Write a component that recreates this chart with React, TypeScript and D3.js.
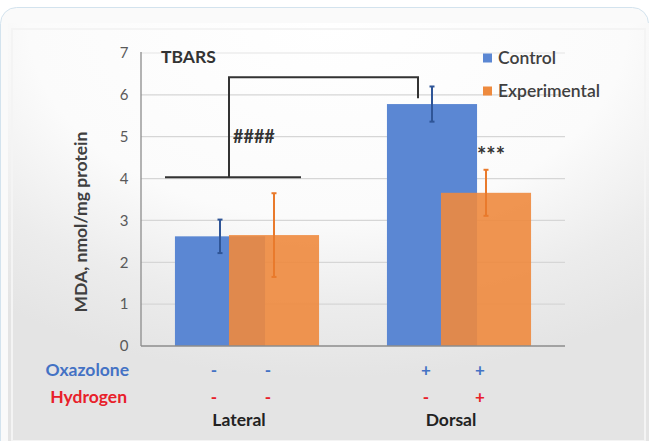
import React from "react";
import * as d3 from "d3";

const categories = ["Lateral", "Dorsal"];
const series = ["Control", "Experimental"];
const controlValues = [2.62, 5.78];
const controlErrors = [0.4, 0.42];
const experimentalValues = [2.65, 3.66];
const experimentalErrors = [1.0, 0.55];
const yTicks = [0, 1, 2, 3, 4, 5, 6, 7];
const oxazoloneSigns = [["-", "-"], ["+", "+"]];
const hydrogenSigns = [["-", "-"], ["-", "+"]];

const colors = { Control: "#5b87d3", Experimental: "#ee8a3e" };
const errColors = { Control: "#2f5597", Experimental: "#e97a2c" };

const W = 655;
const H = 441;
const font = "Lato, 'Open Sans', sans-serif";

const App = () => {
  const x = d3.scaleBand().domain(categories).range([141, 565]);
  const y = d3.scaleLinear().domain([0, 7]).range([346, 53]);
  const sub = d3.scaleBand().domain(series).range([-54, 54]);
  const barW = x.bandwidth() * 0.425;

  const rows = categories.flatMap((c, i) => [
    { cat: c, s: "Control", v: controlValues[i], e: controlErrors[i] },
    { cat: c, s: "Experimental", v: experimentalValues[i], e: experimentalErrors[i] },
  ]);
  const cx = (cat, s) => x(cat) + x.bandwidth() / 2 + sub(s) + sub.bandwidth() / 2;

  const latC = x("Lateral") + x.bandwidth() / 2;
  const dorC = x("Dorsal") + x.bandwidth() / 2;

  return (
    <svg width={W} height={H} style={{ position: "absolute", left: 0, top: 0 }} fontFamily={font}>
      <defs>
        <radialGradient id="bg" cx="50%" cy="0%" r="85%" fx="50%" fy="0%">
          <stop offset="0%" stopColor="#ffffff" />
          <stop offset="55%" stopColor="#fbfbfb" />
          <stop offset="80%" stopColor="#ececec" />
          <stop offset="100%" stopColor="#e4e4e4" />
        </radialGradient>
      </defs>
      <rect width={W} height={H} fill="#ffffff" />
      <rect x={0.5} y={7.5} width={648} height={450} rx={16} fill="#fafafa" stroke="#d3e3ee" />
      <rect x={8} y={23} width={641} height={418} fill="url(#bg)" />
      <rect x={12} y={29} width={633} height={412} fill="none" stroke="#f4f4f4" strokeWidth={2} />

      {yTicks.map((t) => (
        <g key={t}>
          {t > 0 && <line x1={141} x2={565} y1={y(t)} y2={y(t)} stroke={t === 7 ? "#ececec" : "#d6d6d6"} strokeWidth={1.3} />}
          <text x={124} y={y(t)} dy="0.35em" textAnchor="middle" fontSize={15} fill="#595959">{t}</text>
        </g>
      ))}

      {rows.map((d) => (
        <rect key={d.cat + d.s} x={cx(d.cat, d.s) - barW / 2} y={y(d.v)} width={barW} height={y(0) - y(d.v)}
          fill={colors[d.s]} fillOpacity={d.s === "Experimental" ? 0.9 : 1} />
      ))}
      {rows.map((d) => {
        const px = cx(d.cat, d.s);
        return (
          <g key={"e" + d.cat + d.s} stroke={errColors[d.s]} strokeWidth={2}>
            <line x1={px} x2={px} y1={y(d.v + d.e)} y2={y(d.v - d.e)} />
            <line x1={px - 2.5} x2={px + 2.5} y1={y(d.v + d.e)} y2={y(d.v + d.e)} />
            <line x1={px - 2.5} x2={px + 2.5} y1={y(d.v - d.e)} y2={y(d.v - d.e)} />
          </g>
        );
      })}

      <line x1={141} x2={141} y1={y(7) - 1} y2={y(0)} stroke="#8c8c8c" strokeWidth={1.3} />
      <line x1={141} x2={565} y1={y(0)} y2={y(0)} stroke="#8c8c8c" strokeWidth={1.3} />

      {/* significance bracket */}
      <g stroke="#333" strokeWidth={2} fill="none">
        <line x1={latC - 82} x2={latC + 54} y1={y(4.03)} y2={y(4.03)} />
        <polyline points={`${latC - 18},${y(4.03)} ${latC - 18},${y(6.42)} ${dorC - 41},${y(6.42)} ${dorC - 41},${y(5.92)}`} />
      </g>
      <text x={latC - 14} y={y(5)} dy="0.35em" fontSize={18} fontWeight="bold" fill="#333">####</text>
      <text x={cx("Dorsal", "Experimental") + 5} y={y(4.56)} dy="0.35em" textAnchor="middle" fontSize={22} fontWeight="bold" fill="#333">***</text>

      <text x={161} y={57} dy="0.35em" fontSize={17.5} fontWeight="bold" fill="#333">TBARS</text>

      {series.map((s, i) => (
        <g key={s} transform={`translate(483,${58 + i * 33})`}>
          <rect x={0} y={-4.5} width={9} height={9} fill={colors[s]} />
          <text x={15} y={0} dy="0.35em" fontSize={17.5} fill="#404040" fontWeight={600}>{s}</text>
        </g>
      ))}

      <text transform="translate(81,222) rotate(-90)" textAnchor="middle" dy="0.35em" fontSize={17.5} fontWeight="bold" fill="#404040">
        MDA, nmol/mg protein
      </text>

      <text x={129} y={370} dy="0.35em" textAnchor="end" fontSize={17.5} fontWeight="bold" fill="#4472c4">Oxazolone</text>
      <text x={127} y={397} dy="0.35em" textAnchor="end" fontSize={17.5} fontWeight="bold" fill="#e8202a">Hydrogen</text>
      {categories.map((c, i) =>
        series.map((s, j) => (
          <g key={c + s} fontWeight="bold" textAnchor="middle">
            <text x={cx(c, s) - 6} y={370} dy="0.35em" fontSize={17} fill="#4472c4">{oxazoloneSigns[i][j]}</text>
            <text x={cx(c, s) - 6} y={397} dy="0.35em" fontSize={17} fill="#e8202a">{hydrogenSigns[i][j]}</text>
          </g>
        ))
      )}
      {categories.map((c) => (
        <text key={c} x={x(c) + x.bandwidth() / 2 - 8} y={420} dy="0.35em" textAnchor="middle" fontSize={17.5} fontWeight="bold" fill="#222">{c}</text>
      ))}
    </svg>
  );
};

export default App;
